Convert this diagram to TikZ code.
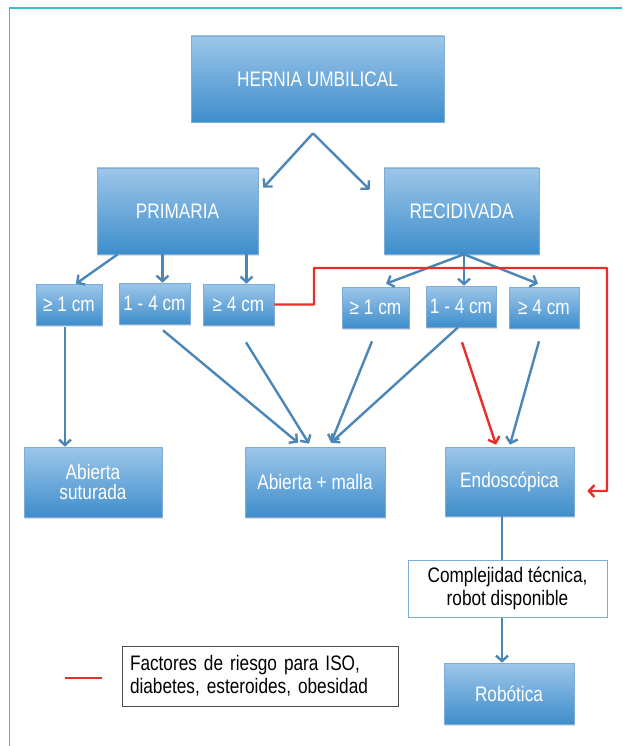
\documentclass[tikz,border=0pt]{standalone}
\usepackage{fontspec}
\setmainfont{Liberation Sans}[FakeStretch=0.82]
\usetikzlibrary{arrows.meta}
\usetikzlibrary{shadows}

\definecolor{boxtop}{RGB}{157,198,233}
\definecolor{boxbot}{RGB}{62,142,204}
\definecolor{boxline}{RGB}{125,172,214}
\definecolor{arrowblue}{RGB}{74,134,184}
\definecolor{riskred}{RGB}{232,46,40}
\definecolor{frameteal}{RGB}{60,190,196}

\tikzset{
    bluebox/.style={draw=boxline, line width=0.6pt, top color=boxtop, bottom color=boxbot,
        text=white, align=center, inner sep=2pt, font=\fontsize{21}{20}\selectfont,
        drop shadow={opacity=0.25, shadow xshift=1pt, shadow yshift=-1.5pt}},
    sizebox/.style={bluebox, minimum width=70pt, minimum height=41pt},
    arr/.style={draw=arrowblue, line width=2.4pt, -{Straight Barb[length=5.5pt,width=12pt]}},
    redarr/.style={draw=riskred, line width=2.4pt, -{Straight Barb[length=5.5pt,width=12pt]}},
}

\begin{document}
\begin{tikzpicture}[x=1pt, y=-1pt]
\useasboundingbox (0,0) rectangle (622,746);
\draw[frameteal, line width=1.2pt] (9.5,746) -- (9.5,8) -- (622,8);

    % main levels
    \node[bluebox, minimum width=253pt, minimum height=86pt] (hernia) at (317.5, 79) {HERNIA UMBILICAL};
    \node[bluebox, minimum width=161pt, minimum height=86pt] (prim) at (177.5, 211) {PRIMARIA};
    \node[bluebox, minimum width=155pt, minimum height=86pt] (reci) at (461.5, 211) {RECIDIVADA};

    % size of the defect
    \node[sizebox, minimum width=66pt] (l1) at (69, 304.5) {≥ 1 cm};
    \node[sizebox, minimum width=71pt] (l14) at (154.5, 303.5) {1 - 4 cm};
    \node[sizebox, minimum width=71pt] (l4) at (238.5, 304.5) {≥ 4 cm};

    \node[sizebox, minimum width=67pt] (r1) at (375.5, 307.5) {≥ 1 cm};
    \node[sizebox] (r14) at (461, 306.5) {1 - 4 cm};
    \node[sizebox] (r4) at (544, 307.5) {≥ 4 cm};

    % techniques
    \node[bluebox, minimum width=138pt, minimum height=70pt] (sut) at (93, 482) {Abierta\\suturada};
    \node[bluebox, minimum width=140pt, minimum height=70pt] (malla) at (315, 482) {Abierta + malla};
    \node[bluebox, minimum width=129pt, minimum height=69pt] (endo) at (509.5, 481.5) {Endoscópica};
    \node[draw=boxline, line width=1pt, fill=white, align=center, font=\fontsize{21}{23}\selectfont,
        minimum width=199pt, minimum height=57pt] (comp) at (507.5, 588.5) {Complejidad técnica,\\robot disponible};
    \node[bluebox, minimum width=130pt, minimum height=61pt] (robo) at (509, 693.5) {Robótica};

    % legend
    \node[draw=black!70, line width=1pt, fill=white, align=left, text width=260pt, inner sep=8pt,
        font=\fontsize{21}{23}\selectfont, minimum height=60pt,
        drop shadow={opacity=0.15, shadow xshift=1pt, shadow yshift=-1pt}] (legend) at (260, 676)
        {Factores de riesgo para ISO,\\diabetes, esteroides, obesidad};
    \draw[riskred, line width=2.4pt] ([xshift=-57pt, yshift=-2pt]legend.west) -- ([xshift=-20pt, yshift=-2pt]legend.west);

    % arrows
    \coordinate (split) at ([xshift=-4.5pt, yshift=-11pt]hernia.south);
    \draw[arr] (split) -- ([xshift=5pt, yshift=-20pt]prim.north east);
    \draw[arr] (split) -- ([xshift=-14pt, yshift=-22pt]reci.north west);

    \draw[arr] ([xshift=21pt]prim.south west) -- ([xshift=7pt]l1.north);
    \draw[arr] ([xshift=8pt]l14.north |- prim.south) -- ([xshift=8pt]l14.north);
    \draw[arr] ([xshift=8pt]l4.north |- prim.south) -- ([xshift=8pt]l4.north);

    \coordinate (fork) at ([xshift=2.5pt]reci.south);
    \draw[arr] (fork) -- ([xshift=10.5pt, yshift=3pt]r1.north);
    \draw[arr] (fork) -- ([xshift=3pt]r14.north);
    \draw[arr] (fork) -- ([xshift=-6pt, yshift=3pt]r4.north);

    \draw[arr] ([xshift=-4pt, yshift=-2pt]l1.south) -- ([xshift=-4pt]l1.south |- sut.north);
    \draw[arr] ([xshift=8.5pt, yshift=-6pt]l14.south) -- ([xshift=-17pt, yshift=4pt]malla.north);
    \draw[arr] ([xshift=7.5pt, yshift=-17pt]l4.south) -- ([xshift=-6pt, yshift=3pt]malla.north);
    \draw[arr] ([xshift=-3.5pt, yshift=-13pt]r1.south) -- ([xshift=16pt, yshift=4pt]malla.north);
    \draw[arr] ([xshift=-3pt]r14.south) -- ([xshift=16pt, yshift=4pt]malla.north);
    \draw[redarr] ([xshift=1pt, yshift=-15pt]r14.south) -- ([xshift=-13.5pt, yshift=2pt]endo.north);
    \draw[arr] ([xshift=-5pt, yshift=-13pt]r4.south) -- ([xshift=0.5pt, yshift=2pt]endo.north);

    \coordinate (redup) at (314, 268);
    \coordinate (reddown) at (607, 491);
    \draw[redarr, rounded corners=0.5pt] (l4.east) -| (redup) -| (reddown) -- ([xshift=13pt]reddown -| endo.east);

    \draw[arrowblue, line width=2.4pt] ([xshift=-7.5pt]endo.south) -- ([xshift=-7.5pt]endo.south |- comp.north);
    \draw[arr] ([xshift=-7pt]robo.north |- comp.south) -- ([xshift=-7pt]robo.north);

\end{tikzpicture}
\end{document}
